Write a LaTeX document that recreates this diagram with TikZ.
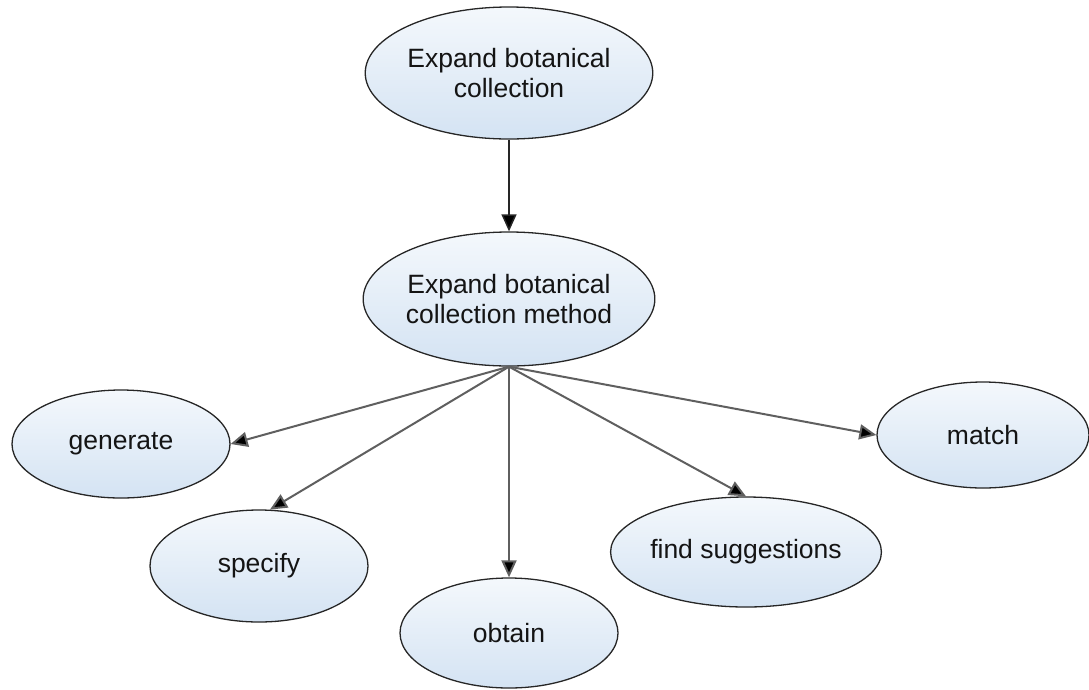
\documentclass[tikz,border=0pt]{standalone}
\usepackage{fontspec}
\setmainfont{Liberation Sans}
\usetikzlibrary{shapes.geometric,arrows.meta}
\definecolor{fillTop}{RGB}{244,248,252}
\definecolor{fillBot}{RGB}{212,227,243}
\definecolor{edgeGray}{RGB}{95,95,95}
\tikzset{
  bubble/.style={ellipse, draw=black!85, line width=1.3pt, inner sep=0pt,
    top color=fillTop, bottom color=fillBot, text=black!92,
    align=center, font=\fontsize{26.5}{30}\selectfont},
  link/.style={draw=edgeGray, line width=2pt,
    -{Triangle[length=17pt,width=15pt,fill=black]}},
  toplink/.style={draw=black!85, line width=1.5pt,
    -{Triangle[length=17pt,width=15pt,fill=black]}}
}
\begin{document}
\begin{tikzpicture}[x=1pt,y=-1pt]
  \useasboundingbox (0,0) rectangle (1089,689);

  % goal and method
  \node[bubble, minimum width=266pt, minimum height=132pt] (goal) at (509,73)
    {Expand botanical\\collection};
  \node[bubble, minimum width=268pt, minimum height=134pt] (method) at (509,299)
    {Expand botanical\\collection method};

  % sub-steps
  \node[bubble, minimum width=218pt, minimum height=108pt] (generate) at (121,444) {generate};
  \node[bubble, minimum width=218pt, minimum height=112pt] (specify) at (259,566) {specify};
  \node[bubble, minimum width=218pt, minimum height=110pt] (obtain) at (509,633) {obtain};
  \node[bubble, minimum width=208pt, minimum height=110pt] (find) at (746,552) {find suggestions};
  \node[bubble, minimum width=212pt, minimum height=106pt] (match) at (983,435) {match};

  % connectors
  \draw[toplink] (goal.south) -- (method.north);
  \draw[link] (method.south) -- (generate.east);
  \draw[link] (method.south) -- (specify.79);
  \draw[link] (method.south) -- (obtain.north);
  \draw[link] (method.south) -- (find.north);
  \draw[link] (method.south) -- (match.west);
\end{tikzpicture}
\end{document}
